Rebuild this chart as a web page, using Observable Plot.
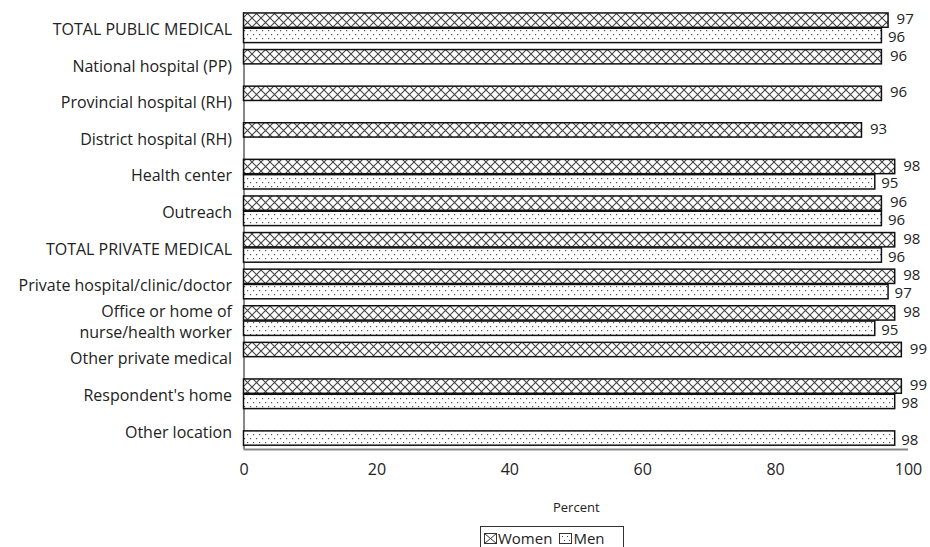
<!DOCTYPE html>
<html>
<head>
<meta charset="utf-8">
<script src="https://cdn.jsdelivr.net/npm/d3@7"></script>
<script src="https://cdn.jsdelivr.net/npm/@observablehq/plot@0.6"></script>
<style>
  html, body { margin: 0; padding: 0; background: #fff; }
  #wrap { position: relative; width: 930px; height: 547px; overflow: hidden; font-family: "Open Sans", Lato, sans-serif; color: #222; }
  #legend { position: absolute; left: 480px; top: 526px; width: 144px; height: 30px; border: 1px solid #333; box-sizing: border-box; font-size: 15px; display: flex; align-items: flex-start; padding: 1px 0 0 3px; }
  #legend .item { display: flex; align-items: center; margin-right: 7px; }
  #legend svg { margin-right: 1px; }
</style>
</head>
<body>
<div id="wrap">
  <div id="chart"></div>
  <div id="legend"></div>
</div>
<script>
const categories = [
  "TOTAL PUBLIC MEDICAL",
  "National hospital (PP)",
  "Provincial hospital (RH)",
  "District hospital (RH)",
  "Health center",
  "Outreach",
  "TOTAL PRIVATE MEDICAL",
  "Private hospital/clinic/doctor",
  "Office or home of\nnurse/health worker",
  "Other private medical",
  "Respondent's home",
  "Other location"
];
const womenValues = [97, 96, 96, 93, 98, 96, 98, 98, 98, 99, 99, null];
const menValues   = [96, null, null, null, 95, 96, 96, 97, 95, null, 98, 98];
const xTicks = [0, 20, 40, 60, 80, 100];
const seriesNames = ["Women", "Men"];

const women = categories.map((c, i) => ({cat: c, value: womenValues[i]})).filter(d => d.value != null);
const men = categories.map((c, i) => ({cat: c, value: menValues[i]})).filter(d => d.value != null);

// layout
const W = 930, H = 520, mTop = 12, mBottom = 71, mLeft = 243.5, mRight = 22;
const pInner = 0.19, pOuter = 0.065, align = 0.2;
const R = H - mTop - mBottom;
const n = categories.length;
const step = R / (n - pInner + 2 * pOuter);
const bw = step * (1 - pInner);
const outer = R - (n - pInner) * step;
const outerBottom = outer * (1 - align);

const chart = Plot.plot({
  width: W,
  height: H,
  marginTop: mTop,
  marginBottom: mBottom,
  marginLeft: mLeft,
  marginRight: mRight,
  style: {fontFamily: "'Open Sans', Lato, sans-serif", fontSize: "15px", color: "#222", background: "#fff"},
  x: {domain: [0, 100]},
  y: {domain: categories, paddingInner: pInner, paddingOuter: pOuter, align: align, round: false},
  marks: [
    Plot.ruleX([0], {stroke: "#888", strokeWidth: 2}),
    Plot.ruleY([categories[n - 1]], {stroke: "#888", strokeWidth: 2, dy: bw / 2 + outerBottom}),
    Plot.barX(women, {x: "value", y: "cat", fill: "url(#pWomen)", stroke: "#111", strokeWidth: 1.5, insetBottom: bw / 2 + 0.5}),
    Plot.barX(men, {x: "value", y: "cat", fill: "url(#pMen)", stroke: "#111", strokeWidth: 1.5, insetTop: bw / 2 + 0.5}),
    Plot.text(women, {x: "value", y: "cat", text: d => String(d.value), dx: 8, dy: -bw / 4 - 1.5, textAnchor: "start", fill: "#222", fontSize: 15}),
    Plot.text(men, {x: "value", y: "cat", text: d => String(d.value), dx: 6, dy: bw / 4 + 1.5, textAnchor: "start", fill: "#222", fontSize: 15}),
    Plot.axisX({ticks: xTicks, tickSize: 0, tickPadding: 14, fontSize: 16, label: null, tickFormat: d => String(d)}),
    Plot.axisY({tickSize: 0, tickPadding: 12, fontSize: 16, lineHeight: 1.3, label: null}),
    Plot.text(["Percent"], {frameAnchor: "bottom", text: d => d, dy: 62, fontSize: 13, fill: "#222"})
  ]
});

const defs = `
<defs>
  <pattern id="pWomen" patternUnits="userSpaceOnUse" width="9" height="9">
    <rect width="9" height="9" fill="#fff"/>
    <path d="M0,0 L9,9 M9,0 L0,9" stroke="#444" stroke-width="1.1" fill="none"/>
  </pattern>
  <pattern id="pMen" patternUnits="userSpaceOnUse" width="6" height="8">
    <rect width="6" height="8" fill="#fff"/>
    <rect x="1" y="2" width="1.2" height="1.2" fill="#555"/>
    <rect x="4" y="6" width="1.2" height="1.2" fill="#555"/>
  </pattern>
</defs>`;
chart.insertAdjacentHTML("afterbegin", defs);
document.getElementById("chart").appendChild(chart);

// legend
const legend = document.getElementById("legend");
const swatches = {
  Women: `<svg width="13" height="11"><rect x="0.5" y="0.5" width="12" height="10" fill="#fff" stroke="#333"/><path d="M0.5,0.5 L12.5,10.5 M12.5,0.5 L0.5,10.5" stroke="#333" fill="none"/></svg>`,
  Men: `<svg width="13" height="11"><rect x="0.5" y="0.5" width="12" height="10" fill="#fff" stroke="#333"/><rect x="3" y="3" width="1" height="1" fill="#444"/><rect x="8" y="3" width="1" height="1" fill="#444"/><rect x="5" y="7" width="1" height="1" fill="#444"/><rect x="10" y="7" width="1" height="1" fill="#444"/></svg>`
};
seriesNames.forEach(name => {
  const item = document.createElement("div");
  item.className = "item";
  item.innerHTML = swatches[name] + `<span>${name}</span>`;
  legend.appendChild(item);
});
</script>
</body>
</html>
